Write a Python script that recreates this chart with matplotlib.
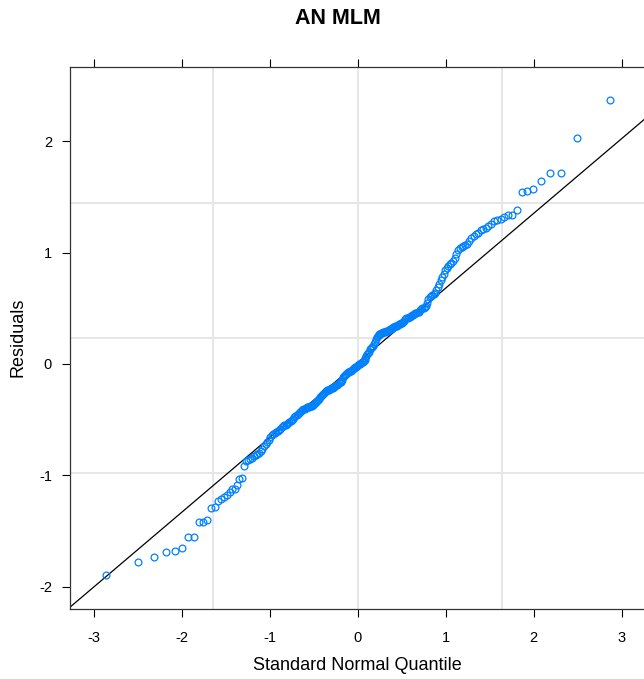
import numpy as np
import matplotlib
matplotlib.use("Agg")
import matplotlib.pyplot as plt
from statistics import NormalDist

plt.rcParams['font.family'] = ['Liberation Sans', 'DejaVu Sans']

# Sorted residuals, n = 240
residuals_lower = [
    -1.89, -1.78, -1.73, -1.69, -1.68, -1.65, -1.55, -1.55, -1.42, -1.42,
    -1.40, -1.29, -1.28, -1.23, -1.21, -1.19, -1.18, -1.15, -1.12, -1.12,
    -1.09, -1.03, -1.02, -0.92, -0.87, -0.86, -0.85, -0.84, -0.83, -0.82,
    -0.81, -0.80, -0.78, -0.76, -0.74, -0.72, -0.70, -0.68, -0.66, -0.64,
    -0.63, -0.62, -0.61, -0.60, -0.59, -0.58, -0.57, -0.56, -0.55, -0.545,
    -0.54, -0.53, -0.52, -0.51, -0.50, -0.49, -0.48, -0.47, -0.46, -0.45,
    -0.44, -0.43, -0.42, -0.41, -0.405, -0.40, -0.395, -0.39, -0.39, -0.385,
    -0.38, -0.38, -0.375, -0.37, -0.36, -0.35, -0.34, -0.33, -0.32, -0.31,
    -0.30, -0.29, -0.28, -0.27, -0.26, -0.25, -0.24, -0.235, -0.23, -0.23,
    -0.225, -0.22, -0.22, -0.215, -0.21, -0.20, -0.19, -0.185, -0.18, -0.17,
    -0.165, -0.16, -0.15, -0.14, -0.12, -0.11, -0.10, -0.09, -0.08, -0.075,
    -0.07, -0.065, -0.06, -0.05, -0.045, -0.04, -0.035, -0.03, -0.025, -0.02,
]
residuals_upper = [
    -0.01, 0.00, 0.00, 0.01, 0.02, 0.02, 0.03, 0.04, 0.05, 0.07,
    0.09, 0.10, 0.11, 0.13, 0.14, 0.15, 0.16, 0.18, 0.20, 0.22,
    0.24, 0.25, 0.26, 0.265, 0.27, 0.275, 0.28, 0.285, 0.29, 0.29,
    0.295, 0.30, 0.30, 0.305, 0.31, 0.315, 0.32, 0.33, 0.335, 0.34,
    0.34, 0.345, 0.35, 0.355, 0.36, 0.365, 0.37, 0.38, 0.39, 0.40,
    0.41, 0.41, 0.42, 0.42, 0.43, 0.44, 0.44, 0.45, 0.46, 0.46,
    0.47, 0.47, 0.48, 0.49, 0.50, 0.50, 0.51, 0.52, 0.55, 0.58,
    0.60, 0.61, 0.62, 0.63, 0.64, 0.66, 0.69, 0.72, 0.75, 0.78,
    0.81, 0.84, 0.86, 0.88, 0.90, 0.91, 0.92, 0.95, 0.99, 1.02,
    1.04, 1.05, 1.06, 1.07, 1.08, 1.10, 1.13, 1.15, 1.17, 1.18,
    1.20, 1.21, 1.22, 1.24, 1.26, 1.28, 1.29, 1.30, 1.32, 1.34,
    1.34, 1.38, 1.54, 1.55, 1.57, 1.64, 1.71, 1.71, 2.03, 2.37,
]
residuals = np.array(residuals_lower + residuals_upper)

x_ticks = [-3, -2, -1, 0, 1, 2, 3]
y_ticks = [-2, -1, 0, 1, 2]
v_refs = [-1.645, 0.0, 1.645]
h_refs = [1.445, 0.233, -0.978]

title = "AN MLM"
xlabel = "Standard Normal Quantile"
ylabel = "Residuals"

# theoretical quantiles as in qqmath (ppoints)
n = len(residuals)
nd = NormalDist()
theo = np.array([nd.inv_cdf((i - 0.5) / n) for i in range(1, n + 1)])
y_sorted = np.sort(residuals)

# qqmathline through quartiles
q1, q3 = np.quantile(y_sorted, [0.25, 0.75])
z1, z3 = nd.inv_cdf(0.25), nd.inv_cdf(0.75)
slope = (q3 - q1) / (z3 - z1)
icpt = q1 - slope * z1

W, H = 644, 679
fig = plt.figure(figsize=(W / 100, H / 100), dpi=100)
L, R, T, B = 70, 645.4, 67.3, 608.5
ax = fig.add_axes([L / W, 1 - B / H, (R - L) / W, (B - T) / H])
ax.set_xlim(-3.269, 3.27)
ax.set_ylim(-2.195, 2.663)

for v in v_refs:
    ax.axvline(v, color='#e6e6e6', lw=1.4, zorder=0)
for h in h_refs:
    ax.axhline(h, color='#e6e6e6', lw=1.4, zorder=0)

xx = np.array(ax.get_xlim())
ax.plot(xx, icpt + slope * xx, color='black', lw=0.9, zorder=2)
ax.plot(theo, y_sorted, linestyle='none', marker='o', markersize=4.9,
        markerfacecolor='none', markeredgecolor='#0080ff', markeredgewidth=0.9,
        zorder=3)

for s in ax.spines.values():
    s.set_color('#333333')
    s.set_linewidth(0.9)

ax.set_xticks(x_ticks)
ax.set_yticks(y_ticks)
ax.set_xticklabels([str(t) for t in x_ticks])
ax.set_yticklabels([str(t) for t in y_ticks])
ax.tick_params(axis='both', direction='out', length=6, width=0.8, color='black',
               labelsize=10.5, top=True, right=True, labeltop=False, labelright=False)
ax.tick_params(axis='x', pad=10)
ax.tick_params(axis='y', pad=7)

fig.text(338 / W, 1 - 19 / H, title, ha='center', va='center', fontsize=15.5,
         fontweight='bold')
fig.text(357.7 / W, 1 - 665 / H, xlabel, ha='center', va='center', fontsize=13)
fig.text(18.5 / W, 1 - 337 / H, ylabel, ha='center', va='center', fontsize=13,
         rotation=90)

fig.savefig('out.png', dpi=100)
